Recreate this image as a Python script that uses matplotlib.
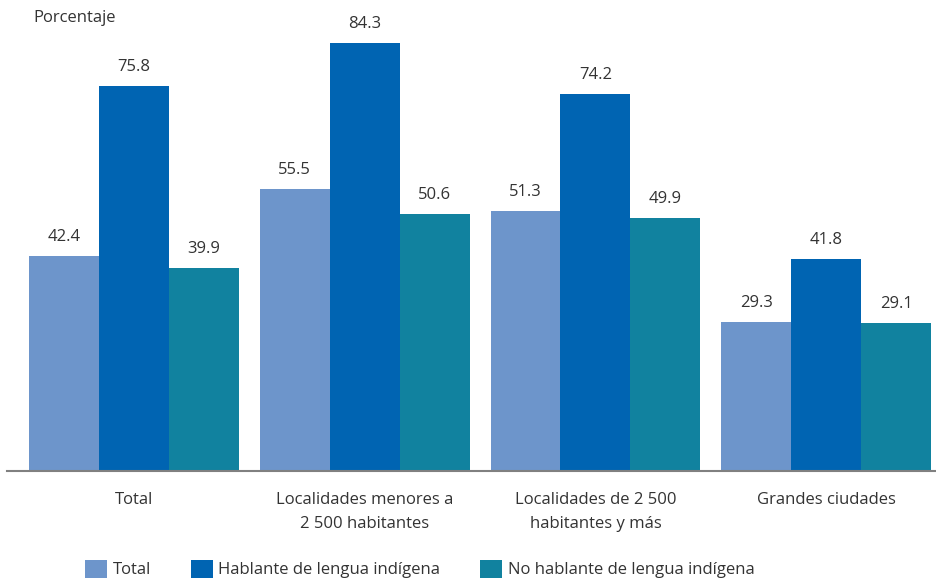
import matplotlib
matplotlib.use("Agg")
import matplotlib.pyplot as plt
import numpy as np

categories = ["Total", "Localidades menores a\n2 500 habitantes",
              "Localidades de 2 500\nhabitantes y más", "Grandes ciudades"]
series_names = ["Total", "Hablante de lengua indígena", "No hablante de lengua indígena"]
total = [42.4, 55.5, 51.3, 29.3]
hablante = [75.8, 84.3, 74.2, 41.8]
no_hablante = [39.9, 50.6, 49.9, 29.1]
colors = ["#6d95cb", "#0064b2", "#11829f"]

plt.rcParams['font.family'] = ['Open Sans', 'DejaVu Sans']
txt = "#333333"

fig = plt.figure(figsize=(9.37, 5.8), dpi=100)
ax = fig.add_axes([7/937, (580-471)/580, 930/937, 471/580])

x = np.arange(len(categories))
w = 0.303
for i, (vals, name, c) in enumerate(zip([total, hablante, no_hablante], series_names, colors)):
    pos = x + (i - 1) * w
    bars = ax.bar(pos, vals, width=w, color=c, label=name, zorder=2)
    for b, v in zip(bars, vals):
        ax.annotate(f"{v:.1f}", (b.get_x() + b.get_width()/2, v),
                    xytext=(0, 8), textcoords="offset points",
                    ha="center", va="bottom", fontsize=12, color=txt)

ax.set_xlim(-0.55, 3.48)
ax.set_ylim(0, 92.8)
for s in ["top", "right", "left"]:
    ax.spines[s].set_visible(False)
ax.spines["bottom"].set_color("#808080")
ax.spines["bottom"].set_linewidth(1.5)
ax.set_yticks([])
ax.set_xticks(x)
ax.set_xticklabels(categories, fontsize=12, color=txt, linespacing=1.65, va="top")
ax.tick_params(axis="x", length=0, pad=15)

fig.text(33/937, 1 - 18/580, "Porcentaje", fontsize=12, color=txt, va="center", ha="left")

fig.legend(loc="center", bbox_to_anchor=(0.448, 1 - 569/580), ncol=3, frameon=False,
           fontsize=12, handlelength=1.3, handleheight=1.3, handletextpad=0.35,
           columnspacing=2.4, labelcolor=txt)

fig.savefig("out.png", dpi=100)
